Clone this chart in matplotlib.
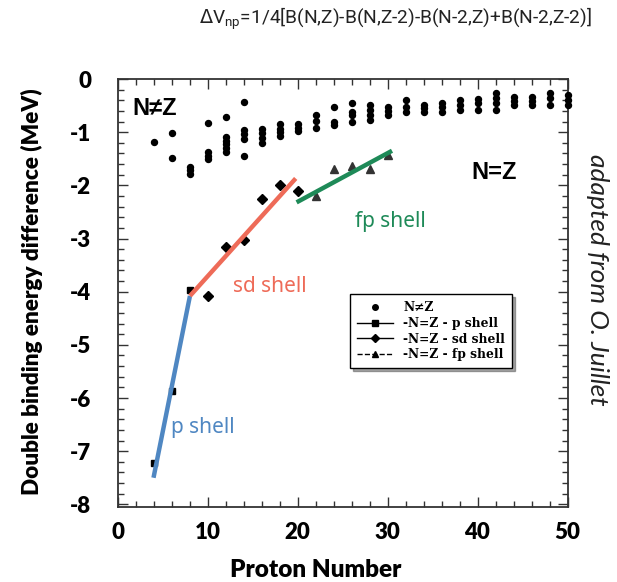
import matplotlib
matplotlib.use("Agg")
import matplotlib.pyplot as plt
from matplotlib.lines import Line2D
from matplotlib.ticker import MultipleLocator

plt.rcParams["axes.unicode_minus"] = False

# N != Z points: proton number and the stacked values at each Z
neq_z = [4, 6, 8, 10, 12, 14, 16, 18, 20, 22, 24, 26,
         28, 30, 32, 34, 36, 38, 40, 42, 44, 46, 48, 50]
neq_dv = [
    [-1.19],
    [-1.02, -1.49],
    [-1.65, -1.72, -1.79],
    [-0.82, -1.37, -1.45, -1.51],
    [-0.72, -1.09, -1.16, -1.23, -1.30, -1.37],
    [-0.43, -0.96, -1.04, -1.12, -1.45],
    [-0.94, -1.02, -1.11, -1.21],
    [-0.84, -0.94, -1.00, -1.07],
    [-0.84, -0.92, -0.98],
    [-0.68, -0.79, -0.92],
    [-0.52, -0.80, -0.87],
    [-0.46, -0.62, -0.68, -0.80],
    [-0.49, -0.58, -0.68, -0.77],
    [-0.52, -0.60, -0.68],
    [-0.40, -0.52, -0.62],
    [-0.49, -0.55, -0.62],
    [-0.46, -0.53, -0.62],
    [-0.40, -0.49, -0.59],
    [-0.37, -0.46, -0.59],
    [-0.27, -0.36, -0.46, -0.59],
    [-0.34, -0.42, -0.49],
    [-0.34, -0.42, -0.49],
    [-0.27, -0.36, -0.49],
    [-0.31, -0.40, -0.49],
]

# N = Z points
p_z = [4, 6, 8]
p_dv = [-7.22, -5.87, -3.97]
sd_z = [10, 12, 14, 16, 18, 20]
sd_dv = [-4.08, -3.16, -3.03, -2.26, -1.99, -2.10]
fp_z = [22, 24, 26, 28, 30]
fp_dv = [-2.20, -1.70, -1.64, -1.69, -1.43]

# hand-drawn fits on top
p_fit_z, p_fit_dv = [4.0, 8.05], [-7.50, -4.08]
sd_fit_z, sd_fit_dv = [8.05, 19.8], [-4.08, -1.87]
fp_fit_z, fp_fit_dv = [19.9, 30.5], [-2.32, -1.35]

BLUE = "#4f87c2"
RED = "#ee6b58"
GREEN = "#1e8a58"
INK = "#222222"

fig = plt.figure(figsize=(6.17, 5.82), dpi=100)
ax = fig.add_axes([117.5 / 617, 1 - 507 / 582, 450 / 617, 428 / 582])

xs = [z for z, vals in zip(neq_z, neq_dv) for _ in vals]
ys = [v for vals in neq_dv for v in vals]
ax.plot(xs, ys, "o", color="black", ms=4.3, clip_on=False, zorder=3)
ax.plot(p_z, p_dv, "s", color="black", ms=4.8, zorder=3)
ax.plot(sd_z, sd_dv, "D", color="black", ms=5.2, zorder=3)
ax.plot(fp_z, fp_dv, "^", color="#333333", ms=5.5, zorder=3)

ax.plot(p_fit_z, p_fit_dv, color=BLUE, lw=3.2, solid_capstyle="butt", zorder=4)
ax.plot(sd_fit_z, sd_fit_dv, color=RED, lw=3.2, solid_capstyle="butt", zorder=4)
ax.plot(fp_fit_z, fp_fit_dv, color=GREEN, lw=3.2, solid_capstyle="butt", zorder=4)

ax.set_xlim(0, 50)
ax.set_ylim(-8.05, 0)
ax.xaxis.set_major_locator(MultipleLocator(10))
ax.xaxis.set_minor_locator(MultipleLocator(2))
ax.yaxis.set_major_locator(MultipleLocator(1))
ax.yaxis.set_minor_locator(MultipleLocator(0.2))
ax.tick_params(which="both", direction="in", top=True, right=True,
               color="#333333", width=1.0)
ax.tick_params(which="major", length=7)
ax.tick_params(which="minor", length=4)
ax.tick_params(axis="x", pad=11)
ax.tick_params(axis="y", pad=19)
for lab in ax.get_xticklabels() + ax.get_yticklabels():
    lab.set_fontfamily("Lato")
    lab.set_fontweight("heavy")
    lab.set_fontsize(16)
    lab.set_color("black")
for s in ax.spines.values():
    s.set_linewidth(1.3)
    s.set_color("#333333")

fig.text(316 / 617, 1 - 570 / 582, "Proton Number", fontfamily="Lato",
         fontweight="heavy", fontsize=17.5, ha="center", va="center")
fig.text(32 / 617, 1 - 292 / 582, "Double binding energy difference (MeV)",
         fontfamily="Lato", fontweight="heavy", fontsize=16.2,
         rotation=90, ha="center", va="center")

ax.text(1.6, -0.55, "N≠Z", fontfamily="Liberation Sans", fontweight="bold",
        fontsize=17, va="center", ha="left")
ax.text(41.8, -1.75, "N=Z", fontfamily="Liberation Sans", fontweight="bold",
        fontsize=17, va="center", ha="center")
ax.text(30.3, -2.68, "fp shell", color=GREEN, fontfamily="Noto Sans",
        fontsize=15, va="center", ha="center")
ax.text(16.9, -3.9, "sd shell", color=RED, fontfamily="Noto Sans",
        fontsize=15, va="center", ha="center")
ax.text(5.9, -6.55, "p shell", color=BLUE, fontfamily="Noto Sans",
        fontsize=15, va="center", ha="left")

handles = [
    Line2D([], [], ls="none", marker="o", color="black", ms=4),
    Line2D([], [], ls="-", marker="s", color="black", ms=4, lw=1),
    Line2D([], [], ls="-", marker="D", color="black", ms=4, lw=1),
    Line2D([], [], ls="--", marker="^", color="black", ms=4, lw=1),
]
labels = ["N≠Z", "-N=Z - p shell", "-N=Z - sd shell", "-N=Z - fp shell"]
leg = ax.legend(handles, labels, loc="upper left",
                bbox_to_anchor=(0.503, 0.511), frameon=True, fancybox=False,
                shadow=True, edgecolor="black", handlelength=3.0,
                borderpad=0.55, labelspacing=0.22,
                prop={"family": "DejaVu Serif", "weight": "bold", "size": 8.8})
leg.get_frame().set_linewidth(1.0)

fig.text(395 / 617, 1 - 19 / 582,
         r"$\Delta$V$_{\mathregular{np}}$=1/4[B(N,Z)-B(N,Z-2)-B(N-2,Z)+B(N-2,Z-2)]",
         fontfamily="Roboto", fontsize=13.8, color=INK, ha="center", va="center")
fig.text(598 / 617, 1 - 280 / 582, "adapted from O. Juillet",
         fontfamily="Lato", style="italic", fontsize=19,
         color=INK, rotation=-90, ha="center", va="center")

fig.savefig("out.png", dpi=100, facecolor="white")
